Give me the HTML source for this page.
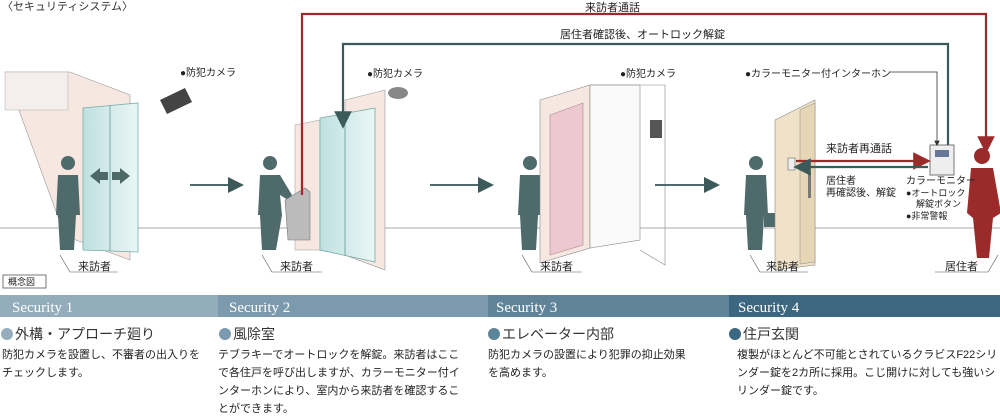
<!DOCTYPE html><html><head><meta charset="utf-8"><style>
body{margin:0;width:1000px;height:413px;background:#fff;overflow:hidden;font-family:"Liberation Sans","Noto Sans CJK JP",sans-serif;}
svg text{font-family:"Liberation Sans","Noto Sans CJK JP",sans-serif;}
</style></head><body>
<svg width="1000" height="413" viewBox="0 0 1000 413" xmlns="http://www.w3.org/2000/svg">
<defs>
<marker id="ar" markerWidth="8" markerHeight="8" refX="4" refY="4" orient="auto"><path d="M0,0L8,4L0,8z" fill="#9b2b2b"/></marker>
<marker id="at" markerWidth="8" markerHeight="8" refX="4" refY="4" orient="auto"><path d="M0,0L8,4L0,8z" fill="#3d5a5a"/></marker>
<marker id="ag" markerWidth="7" markerHeight="7" refX="3" refY="3.5" orient="auto"><path d="M0,0L7,3.5L0,7z" fill="#333"/></marker>
<linearGradient id="gl" x1="0" x2="1"><stop offset="0" stop-color="#bfe0e0"/><stop offset="1" stop-color="#eaf6f6"/></linearGradient>
</defs>
<text x="2" y="10" font-size="11" fill="#333">〈セキュリティシステム〉</text>
<!-- floor lines -->
<line x1="0" y1="228" x2="1000" y2="228" stroke="#aaa" stroke-width="1"/>
<!-- building 1 -->
<path d="M5,72 L70,72 L130,95 L130,260 L65,236 Z" fill="#f6e7e1" stroke="#999" stroke-width="0.6"/>
<path d="M5,72 L68,72 L68,110 L5,110Z" fill="#f4efed" stroke="#aaa" stroke-width="0.5"/>
<path d="M83,108 L138,103 L138,252 L83,250Z" fill="url(#gl)" stroke="#7aa" stroke-width="0.8"/>
<line x1="110" y1="105" x2="110" y2="251" stroke="#7aa"/>
<path d="M90,176 L100,168 L100,172 L108,172 L108,180 L100,180 L100,184Z" fill="#4e6868"/>
<path d="M130,176 L120,168 L120,172 L112,172 L112,180 L120,180 L120,184Z" fill="#4e6868"/>
<path d="M160,100 L185,88 L192,102 L167,114Z" fill="#444"/>
<text x="180" y="76" font-size="10" fill="#222">●防犯カメラ</text>
<!-- person generic -->
<g fill="#4f6a6a">
<g transform="translate(60,155)"><circle cx="8" cy="8" r="7"/><path d="M-2,20 L18,20 L20,60 L16,60 L14,95 L0,95 L-2,60 L-4,60Z"/></g>
<g transform="translate(262,155)"><circle cx="8" cy="8" r="7"/><path d="M-2,20 L18,20 L30,40 L26,45 L18,40 L20,60 L14,95 L0,95 L-2,60 L-4,60Z"/></g>
<g transform="translate(522,155)"><circle cx="8" cy="8" r="7"/><path d="M-2,20 L18,20 L20,60 L16,60 L14,95 L0,95 L-2,60 L-4,60Z"/></g>
<g transform="translate(748,155)"><circle cx="8" cy="8" r="7"/><path d="M-2,20 L18,20 L20,60 L16,60 L14,95 L0,95 L-2,60 L-4,60Z"/><rect x="16" y="58" width="12" height="14"/></g>
</g>
<g fill="#9b2b2b" transform="translate(975,148)"><circle cx="7" cy="8" r="8"/><path d="M-4,20 L18,20 L26,65 L18,70 L14,110 L2,110 L-2,70 L-8,65Z"/></g>
<!-- building 2 -->
<path d="M295,125 L320,120 L320,250 L295,250Z" fill="#f6e7e1" stroke="#999" stroke-width="0.5"/>
<path d="M345,100 L385,90 L385,270 L345,255Z" fill="#f6e7e1" stroke="#999" stroke-width="0.6"/>
<path d="M320,118 L375,108 L375,262 L320,250Z" fill="url(#gl)" stroke="#7aa" stroke-width="0.8"/>
<line x1="345" y1="113" x2="345" y2="256" stroke="#7aa"/>
<path d="M285,200 L305,188 L310,192 L310,240 L288,240Z" fill="#bbb" stroke="#777" stroke-width="0.6"/>
<ellipse cx="398" cy="93" rx="10" ry="6" fill="#888"/>
<text x="367" y="77" font-size="10" fill="#222">●防犯カメラ</text>
<!-- elevator -->
<path d="M540,100 L590,85 L590,248 L540,263Z" fill="#f6e7e1" stroke="#888" stroke-width="0.6"/>
<path d="M590,85 L640,85 L640,240 L590,248Z" fill="#fafafa" stroke="#888" stroke-width="0.6"/>
<path d="M550,115 L583,103 L583,245 L550,255Z" fill="#eec8d0" stroke="#a88" stroke-width="0.6"/>
<rect x="650" y="120" width="12" height="18" fill="#555"/>
<path d="M590,85 L665,85 L665,265 L640,250" fill="none" stroke="#888" stroke-width="0.6"/>
<text x="620" y="77" font-size="10" fill="#222">●防犯カメラ</text>
<!-- door -->
<path d="M775,120 L815,100 L815,265 L775,270Z" fill="#efe2c8" stroke="#888" stroke-width="0.6"/>
<path d="M800,110 L815,103 L815,262 L800,264Z" fill="#e6d6b6" stroke="#888" stroke-width="0.5"/>
<rect x="788" y="158" width="7" height="12" fill="#eee" stroke="#999"/>
<rect x="808" y="173" width="3" height="25" fill="#777"/>
<!-- monitor -->
<rect x="930" y="145" width="24" height="30" fill="#eee" stroke="#777"/>
<rect x="935" y="150" width="14" height="7" fill="#667799"/>
<text x="745" y="77" font-size="10" fill="#222">●カラーモニター付インターホン</text>
<path d="M890,72 L937,72 L937,143" fill="none" stroke="#333" stroke-width="0.8" marker-end="url(#ag)"/>
<!-- connectors -->
<path d="M302,195 L302,14 L986,14 L986,145" fill="none" stroke="#9b2b2b" stroke-width="2.2" marker-end="url(#ar)"/>
<path d="M948,145 L948,44 L343,44 L343,120" fill="none" stroke="#3d5a5a" stroke-width="2.2" marker-end="url(#at)"/>
<text x="585" y="11" font-size="11" fill="#222">来訪者通話</text>
<text x="560" y="38" font-size="11" fill="#222">居住者確認後、オートロック解錠</text>
<line x1="796" y1="161" x2="922" y2="161" stroke="#9b2b2b" stroke-width="2.2" marker-end="url(#ar)"/>
<line x1="928" y1="167" x2="802" y2="167" stroke="#3d5a5a" stroke-width="2.2" marker-end="url(#at)"/>
<text x="826" y="152" font-size="11" fill="#222">来訪者再通話</text>
<text x="826" y="184" font-size="10" fill="#222">居住者</text>
<text x="826" y="196" font-size="10" fill="#222">再確認後、解錠</text>
<text x="906" y="184" font-size="10" fill="#222">カラーモニター</text>
<text x="906" y="196" font-size="9" fill="#222">●オートロック</text>
<text x="916" y="207" font-size="9" fill="#222">解錠ボタン</text>
<text x="906" y="219" font-size="9" fill="#222">●非常警報</text>
<!-- grey arrows -->
<g stroke="#4f6a6a" stroke-width="2"><line x1="190" y1="185" x2="236" y2="185" marker-end="url(#at)"/><line x1="430" y1="185" x2="486" y2="185" marker-end="url(#at)"/><line x1="655" y1="185" x2="712" y2="185" marker-end="url(#at)"/></g>
<!-- labels -->
<g fill="none" stroke="#555" stroke-width="0.6"><path d="M60,255 L70,272 L118,272"/><path d="M262,255 L272,272 L322,272"/><path d="M522,255 L532,272 L582,272"/><path d="M750,255 L760,272 L808,272"/><path d="M998,255 L988,272 L935,272"/></g>
<text x="78" y="270" font-size="11" fill="#222">来訪者</text>
<text x="280" y="270" font-size="11" fill="#222">来訪者</text>
<text x="540" y="270" font-size="11" fill="#222">来訪者</text>
<text x="766" y="270" font-size="11" fill="#222">来訪者</text>
<text x="945" y="270" font-size="11" fill="#222">居住者</text>
<rect x="3" y="275" width="43" height="13" fill="#fff" stroke="#555" stroke-width="0.8"/>
<text x="8" y="285" font-size="9" fill="#222">概念図</text>
<!-- bars -->
<rect x="0" y="295" width="218" height="22" fill="#94adbd"/>
<rect x="218" y="295" width="270" height="22" fill="#7b9aad"/>
<rect x="488" y="295" width="241" height="22" fill="#5f8398"/>
<rect x="729" y="295" width="271" height="22" fill="#3d6680"/>
<g font-family="Liberation Serif,serif" font-size="15" fill="#fff">
<text x="12" y="312" style="font-family:'Liberation Serif',serif">Security 1</text>
<text x="229" y="312" style="font-family:'Liberation Serif',serif">Security 2</text>
<text x="496" y="312" style="font-family:'Liberation Serif',serif">Security 3</text>
<text x="738" y="312" style="font-family:'Liberation Serif',serif">Security 4</text></g>
<g font-size="14" fill="#333">
<circle cx="7" cy="334" r="6" fill="#94adbd"/><text x="15" y="339">外構・アプローチ廻り</text>
<circle cx="225" cy="334" r="6" fill="#7b9aad"/><text x="233" y="339">風除室</text>
<circle cx="494" cy="334" r="6" fill="#5f8398"/><text x="502" y="339">エレベーター内部</text>
<circle cx="735" cy="334" r="6" fill="#3d6680"/><text x="743" y="339">住戸玄関</text></g>
<g font-size="11" fill="#222">
<text x="2" y="358">防犯カメラを設置し、不審者の出入りを</text>
<text x="2" y="376">チェックします。</text>
<text x="218" y="358">テブラキーでオートロックを解錠。来訪者はここ</text>
<text x="218" y="376">で各住戸を呼び出しますが、カラーモニター付イ</text>
<text x="218" y="394">ンターホンにより、室内から来訪者を確認するこ</text>
<text x="218" y="412">とができます。</text>
<text x="488" y="358">防犯カメラの設置により犯罪の抑止効果</text>
<text x="488" y="376">を高めます。</text>
<text x="737" y="358">複製がほとんど不可能とされているクラビスF22シリ</text>
<text x="737" y="376">ンダー錠を2カ所に採用。こじ開けに対しても強いシ</text>
<text x="737" y="394">リンダー錠です。</text></g>
</svg>
</body></html>
